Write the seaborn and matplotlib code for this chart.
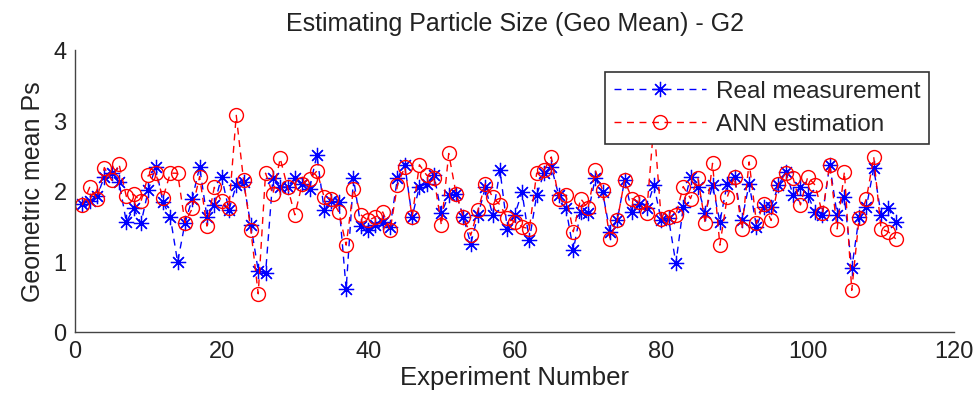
import matplotlib
matplotlib.use("Agg")
import matplotlib.pyplot as plt
import seaborn as sns
import numpy as np

# experiment index 1..112
experiment = list(range(1, 113))

real_measurement = [
    1.82, 1.85, 1.92, 2.20, 2.25, 2.13, 1.56, 1.75, 1.54, 2.01,
    2.34, 1.84, 1.63, 0.99, 1.54, 1.89, 2.34, 1.63, 1.80, 2.20,
    1.73, 2.08, 2.12, 1.51, 0.87, 0.83, 2.18, 2.06, 2.05, 2.18,
    2.10, 2.03, 2.51, 1.73, 1.85, 1.84, 0.61, 2.18, 1.50, 1.44,
    1.51, 1.56, 1.49, 2.18, 2.37, 1.63, 2.06, 2.10, 2.22, 1.68,
    1.94, 1.96, 1.63, 1.25, 1.66, 2.05, 1.66, 2.29, 1.46, 1.66,
    1.98, 1.30, 1.94, 2.25, 2.34, 1.94, 1.75, 1.16, 1.70, 1.68,
    2.18, 1.98, 1.42, 1.58, 2.15, 1.70, 1.82, 1.75, 2.08, 1.58,
    1.61, 0.97, 1.77, 2.20, 2.05, 1.68, 2.08, 1.56, 2.10, 2.20,
    1.58, 2.10, 1.49, 1.77, 1.77, 2.08, 2.27, 1.94, 2.06, 1.94,
    1.70, 1.66, 2.37, 1.66, 1.91, 0.90, 1.63, 1.77, 2.32, 1.66,
    1.75, 1.56,
]

ann_estimation = [
    1.80, 2.05, 1.88, 2.33, 2.15, 2.38, 1.92, 1.95, 1.85, 2.22,
    2.25, 1.90, 2.25, 2.25, 1.55, 1.75, 2.20, 1.50, 2.05, 1.85,
    1.75, 3.07, 2.15, 1.44, 0.54, 2.25, 1.95, 2.46, 2.05, 1.66,
    2.10, 2.17, 2.28, 1.91, 1.89, 1.70, 1.23, 2.03, 1.66, 1.58,
    1.63, 1.70, 1.44, 2.08, 2.34, 1.63, 2.37, 2.22, 2.18, 1.51,
    2.53, 1.96, 1.63, 1.37, 1.73, 2.10, 1.91, 1.80, 1.61, 1.56,
    1.49, 1.46, 2.25, 2.29, 2.48, 1.89, 1.94, 1.42, 1.89, 1.75,
    2.29, 2.01, 1.32, 1.58, 2.15, 1.89, 1.84, 1.68, 2.95, 1.60,
    1.63, 1.66, 2.06, 1.89, 2.18, 1.54, 2.39, 1.23, 1.91, 2.20,
    1.46, 2.41, 1.54, 1.82, 1.58, 2.10, 2.25, 2.18, 1.80, 2.20,
    2.08, 1.68, 2.37, 1.46, 2.27, 0.59, 1.61, 1.89, 2.48, 1.46,
    1.42, 1.32,
]

x_ticks = [0, 20, 40, 60, 80, 100, 120]
y_ticks = [0, 1, 2, 3, 4]

sns.set_style("white")
plt.rcParams['font.family'] = ['Liberation Sans', 'DejaVu Sans']

fig = plt.figure(figsize=(9.77, 4.06), dpi=100)
ax = fig.add_axes([0.0768, 0.18, 0.9, 0.695])

# matlab-style asterisk (8 arms)
asterisk = (8, 2, 0)

sns.lineplot(x=experiment, y=real_measurement, ax=ax, color='blue',
             linestyle=(0, (5, 4)), linewidth=1.0, marker=asterisk, markersize=11,
             markeredgewidth=0.9, markeredgecolor='blue', label='Real measurement')
sns.lineplot(x=experiment, y=ann_estimation, ax=ax, color='red',
             linestyle=(0, (5, 4)), linewidth=1.0, marker='o', markersize=10,
             markerfacecolor='none', markeredgecolor='red',
             markeredgewidth=1.0, label='ANN estimation')

ax.set_xlim(0, 120)
ax.set_ylim(0, 4)
ax.set_xticks(x_ticks)
ax.set_yticks(y_ticks)
ax.tick_params(direction='in', length=5, width=1, labelsize=17,
               colors='#333333', labelcolor='#222222', pad=6)
for side in ['top', 'right']:
    ax.spines[side].set_visible(False)
for side in ['left', 'bottom']:
    ax.spines[side].set_color('#444444')
    ax.spines[side].set_linewidth(1.0)

ax.set_title("Estimating Particle Size (Geo Mean) - G2", fontsize=18, color='#222222', pad=14)
ax.set_xlabel("Experiment Number", fontsize=18.5, color='#222222', labelpad=2)
ax.set_ylabel("Geometric mean Ps", fontsize=18, color='#222222', labelpad=6)

leg = ax.legend(loc='upper right', bbox_to_anchor=(0.985, 0.965), fontsize=17.5,
                frameon=True, fancybox=False, framealpha=1, edgecolor='#333333',
                borderpad=0.35, handlelength=3.8, handletextpad=0.4,
                labelspacing=0.45)
leg.get_frame().set_linewidth(1.2)
leg.set_zorder(5)

fig.savefig("out.png", dpi=100)
